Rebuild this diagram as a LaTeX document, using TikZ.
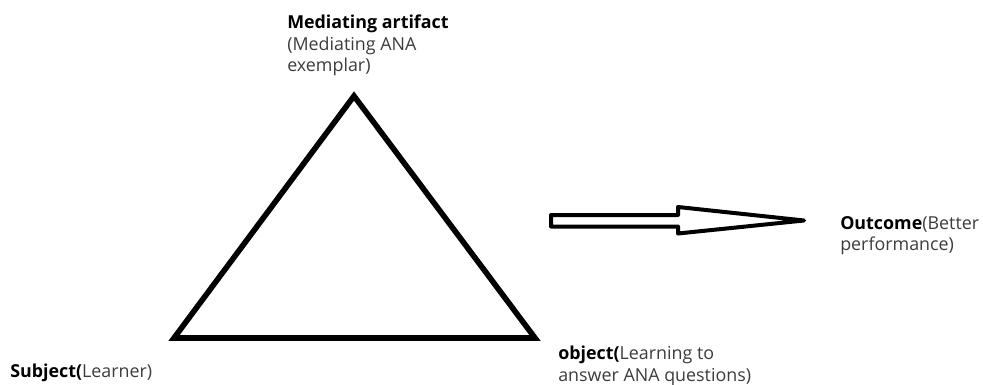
\documentclass[tikz,border=0pt]{standalone}
\usepackage{fontspec}
\setmainfont{Open Sans}
\usepackage{xcolor}
\usetikzlibrary{positioning}
\definecolor{labelgray}{RGB}{60,60,60}

\begin{document}
\begin{tikzpicture}[
  x=0.75pt,y=-0.75pt,
  lbl/.style={inner sep=0pt,anchor=north west,align=left,text=labelgray,
    font=\fontsize{13.4pt}{16pt}\selectfont},
  tri/.style={line width=4.2pt,line join=miter},
  blockarr/.style={line width=3pt,line join=round,fill=white}
]
\useasboundingbox (0,0) rectangle (983,385);
% activity triangle
\coordinate (apex) at (354,96);
\coordinate (subj) at (174,338);
\coordinate (obj) at (535,338);
\draw[tri] (apex)--(obj)--(subj)--cycle;
% outcome arrow
\coordinate (tail) at (551,220.5);
\coordinate (tip) at (804,220.5);
\draw[blockarr] (tail) ++(0,-5.5) -| ++(127,-8) -- (tip) -- ++(-126,13) |- ++(-127,-7) -- cycle;
% labels
\node[lbl] (mediating) at (287,15) {\textbf{\color{black}Mediating artifact}\\(Mediating ANA\\exemplar)};
\node[lbl] (subject) at (10,364) {\textbf{\color{black}Subject(}Learner)};
\node[lbl] (object) at (558,346) {\textbf{\color{black}object(}Learning to\\answer ANA questions)};
\node[lbl] (outcome) at (840,216) {\textbf{\color{black}Outcome}(Better\\performance)};
\end{tikzpicture}
\end{document}
